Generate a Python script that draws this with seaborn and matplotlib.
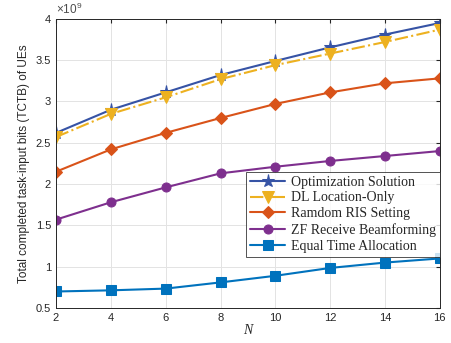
"""
Total completed task-input bits vs. N for the compared schemes
"""

import seaborn as sns
import matplotlib.pyplot as plt
from matplotlib.ticker import FuncFormatter

# Number of RIS elements (x axis)
n_values = [2, 4, 6, 8, 10, 12, 14, 16]

# TCTB values, in units of 1e9 bits
optimization = [2.62, 2.90, 3.11, 3.32, 3.49, 3.655, 3.81, 3.95]
dl_location = [2.57, 2.85, 3.05, 3.27, 3.44, 3.58, 3.72, 3.87]
random_ris = [2.15, 2.42, 2.62, 2.80, 2.97, 3.11, 3.22, 3.28]
zf_receive = [1.57, 1.78, 1.96, 2.13, 2.21, 2.28, 2.34, 2.40]
equal_time = [0.70, 0.714, 0.735, 0.81, 0.89, 0.985, 1.05, 1.10]

labels = ['Optimization Solution', 'DL Location-Only', 'Ramdom RIS Setting',
          'ZF Receive Beamforming', 'Equal Time Allocation']


def plot_tctb():
    sns.set_style('white')
    plt.rcParams['font.family'] = ['Liberation Sans', 'DejaVu Sans']
    plt.rcParams['mathtext.fontset'] = 'custom'
    plt.rcParams['mathtext.rm'] = 'Liberation Sans'

    fig = plt.figure(figsize=(4.52, 3.43), dpi=100)
    ax = fig.add_axes([0.124, 0.102, 0.849, 0.843])

    series = [
        (optimization, '#3653a5', '*', '-', 9.5),
        (dl_location, '#edb120', 'v', '-.', 8.5),
        (random_ris, '#d95319', 'D', '-', 6.5),
        (zf_receive, '#7e2f8e', 'o', '-', 6.5),
        (equal_time, '#0072bd', 's', '-', 6.5),
    ]
    for (vals, color, marker, ls, ms), lab in zip(series, labels):
        sns.lineplot(x=n_values, y=vals, ax=ax, color=color, marker=marker,
                     linestyle=ls, markersize=ms, linewidth=1.5,
                     markeredgecolor=color, label=lab)

    ax.set_xlim(2, 16)
    ax.set_ylim(0.5, 4)
    ax.set_xticks(n_values)
    ax.set_yticks([0.5, 1, 1.5, 2, 2.5, 3, 3.5, 4])
    ax.yaxis.set_major_formatter(FuncFormatter(lambda v, p: '%g' % v))
    ax.grid(True, color='#e3e3e3', linewidth=0.7)
    ax.tick_params(direction='in', length=3, labelsize=8, colors='#262626',
                   top=True, right=True)
    for s in ax.spines.values():
        s.set_color('#262626')
        s.set_linewidth(0.7)

    ax.text(0.0, 1.005, r'$\times\mathrm{10}^{\mathrm{9}}$', transform=ax.transAxes,
            fontsize=8.5, color='#4d4d4d', va='bottom', ha='left')
    ax.set_xlabel('N', fontsize=10, color='#262626', labelpad=1,
                  family='Liberation Serif', fontstyle='italic')
    ax.set_ylabel('Total completed task-input bits (TCTB) of UEs', fontsize=8.5,
                  color='#262626', labelpad=4)

    leg = ax.legend(loc='upper right', bbox_to_anchor=(1.0, 0.472),
                    borderaxespad=0, fancybox=False, frameon=True,
                    prop={'family': 'Liberation Serif', 'size': 10},
                    handlelength=2.5, labelspacing=0.2, borderpad=0.3,
                    handletextpad=0.4)
    leg.get_frame().set_edgecolor('#262626')
    leg.get_frame().set_linewidth(0.7)

    plt.savefig('out.png', dpi=100)


if __name__ == "__main__":
    plot_tctb()
